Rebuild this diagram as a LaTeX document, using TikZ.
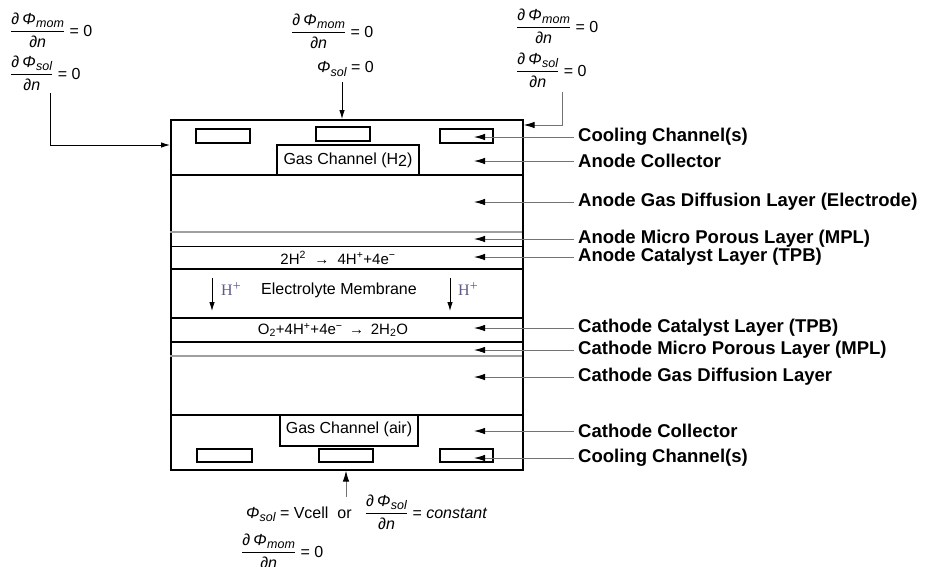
\documentclass[tikz,border=0pt]{standalone}
\usepackage{amsmath}
\usepackage{fontspec}
\setmainfont{Liberation Sans}
\newfontfamily\serifH{Liberation Serif}
\usetikzlibrary{arrows.meta}
\definecolor{conn}{gray}{0.45}
\definecolor{hplus}{RGB}{100,88,135}
\newcommand{\pnum}[1]{\textit{∂\hspace{3pt}Φ}\hspace{0.5pt}\raisebox{-3.5pt}{\fontsize{12.5}{13}\selectfont\itshape #1}}
\newcommand{\pfr}[1]{\ensuremath{\dfrac{\text{\pnum{#1}}}{\text{\itshape ∂n}}}}
\begin{document}
\begin{tikzpicture}[x=1pt,y=-1pt,
  layer/.style={line width=1.6pt},
  thinl/.style={line width=0.9pt},
  grayl/.style={draw=gray!75, line width=1.4pt},
  chan/.style={draw, line width=1.1pt},
  arr/.style={draw=conn, line width=0.9pt, -{Latex[length=11pt,width=6.5pt,color=black]}},
  barr/.style={draw=black, line width=0.9pt, -{Latex[length=9pt,width=5.5pt]}},
  lbl/.style={font=\fontsize{18.5}{20}\selectfont\bfseries, anchor=west, inner sep=0pt},
  frm/.style={font=\fontsize{16}{18}\selectfont, inner sep=0pt, anchor=base west},
  intext/.style={font=\fontsize{16}{18}\selectfont, inner sep=0pt},
  rxn/.style={font=\fontsize{15}{17}\selectfont, inner sep=0pt},
  hp/.style={font=\fontsize{16}{18}\selectfont\serifH, text=hplus, inner sep=0pt, anchor=west}
]
\useasboundingbox (0,0) rectangle (929,566);

% main cell
\node[draw, layer, minimum width=352pt, minimum height=350pt, anchor=north west, inner sep=0pt] (cell) at (170,119) {};
\draw[layer] (170,175) -- (522,175);
\draw[grayl] (170,232) -- (522,232);
\draw[thinl] (170,246) -- (522,246);
\draw[layer] (170,269) -- (522,269);
\draw[layer] (170,318) -- (522,318);
\draw[layer] (170,342) -- (522,342);
\draw[grayl] (170,356) -- (522,356);
\draw[layer] (170,415) -- (522,415);

% cooling channels
\draw[chan] (196,129) rectangle (250,143);
\draw[chan] (316,127) rectangle (370,141);
\draw[chan] (440,129) rectangle (493,143);
\draw[chan] (197,449) rectangle (252,462);
\draw[chan] (319,449) rectangle (373,462);
\draw[chan] (440,449) rectangle (493,462);

% gas channels
\draw[chan] (277,175) -- (277,145) -- (419,145) -- (419,175);
\node[intext] (gch2) at (348,160) {Gas Channel (H\raisebox{-2pt}{2})};
\draw[chan] (280,415) -- (280,446) -- (418,446) -- (418,415);
\node[intext] (gcair) at (349,429) {Gas Channel (air)};

% reactions
\node[rxn] (anr) at (338,258) {2H\textsuperscript{2} \ → \ 4H\textsuperscript{+}+4e\textsuperscript{−}};
\node[rxn] (car) at (333,330) {O\textsubscript{2}+4H\textsuperscript{+}+4e\textsuperscript{−} \,→\, 2H\textsubscript{2}O};

% membrane
\node[intext] (mem) at (339,290) {Electrolyte Membrane};
\coordinate (h1a) at (212,278); \coordinate (h1b) at (212,311);
\coordinate (h2a) at (450,278); \coordinate (h2b) at (450,311);
\draw[barr] (h1a) -- (h1b);
\draw[barr] (h2a) -- (h2b);
\node[hp] (hp1) at (221,289) {H\raisebox{5pt}{\fontsize{14}{14}\selectfont +}};
\node[hp] (hp2) at (458,289) {H\raisebox{5pt}{\fontsize{14}{14}\selectfont +}};

% right labels
\node[lbl] (l1) at (578,137) {Cooling Channel(s)};
\node[lbl] (l2) at (578,161) {Anode Collector};
\node[lbl] (l3) at (578,202) {Anode Gas Diffusion Layer (Electrode)};
\node[lbl] (l4) at (578,239) {Anode Micro Porous Layer (MPL)};
\node[lbl] (l5) at (578,257) {Anode Catalyst Layer (TPB)};
\node[lbl] (l6) at (578,328) {Cathode Catalyst Layer (TPB)};
\node[lbl] (l7) at (578,350) {Cathode Micro Porous Layer (MPL)};
\node[lbl] (l8) at (578,377) {Cathode Gas Diffusion Layer};
\node[lbl] (l9) at (578,431) {Cathode Collector};
\node[lbl] (l10) at (578,458) {Cooling Channel(s)};
\foreach \i/\y in {1/137,2/161,3/202,4/239,5/257,6/328,7/350,8/377,9/431,10/458}{
  \coordinate (t\i) at (474,\y);
  \draw[arr] ([xshift=-4pt]l\i.west) -- (t\i);
}

% top-left boundary condition
\node[frm] (f1a) at (10,36) {\pfr{mom} = 0};
\node[frm] (f1b) at (10,79) {\pfr{sol} = 0};
\coordinate (c1a) at (50,93);
\coordinate (c1b) at (50,145);
\coordinate (c1c) at (cell.west |- c1b);
\draw[barr] (c1a) -- (c1b) -- (c1c);

% top-middle boundary condition
\node[frm] (f2a) at (291,37) {\pfr{mom} = 0};
\node[frm] (f2b) at (317,72.5) {\textit{Φ}\raisebox{-3.5pt}{\fontsize{12.5}{13}\selectfont\itshape sol} = 0};
\coordinate (c2a) at (342,82);
\coordinate (c2b) at (cell.north -| c2a);
\draw[barr] (c2a) -- (c2b);

% top-right boundary condition
\node[frm] (f3a) at (516,32) {\pfr{mom} = 0};
\node[frm] (f3b) at (516,76) {\pfr{sol} = 0};
\coordinate (c3a) at (562,92);
\coordinate (c3b) at (562,125);
\coordinate (c3c) at (cell.east |- c3b);
\draw[arr] (c3a) -- (c3b) -- (c3c);

% bottom boundary condition
\coordinate (c4a) at (346,497);
\coordinate (c4b) at (cell.south -| c4a);
\draw[arr] (c4a) -- (c4b);
\node[frm] (f4a) at (246,518) {\textit{Φ}\raisebox{-3.5pt}{\fontsize{12.5}{13}\selectfont\itshape sol} = Vcell \ or \ \ \pfr{sol} = \textit{constant}};
\node[frm] (f4b) at (241,557) {\pfr{mom} = 0};
\end{tikzpicture}
\end{document}
